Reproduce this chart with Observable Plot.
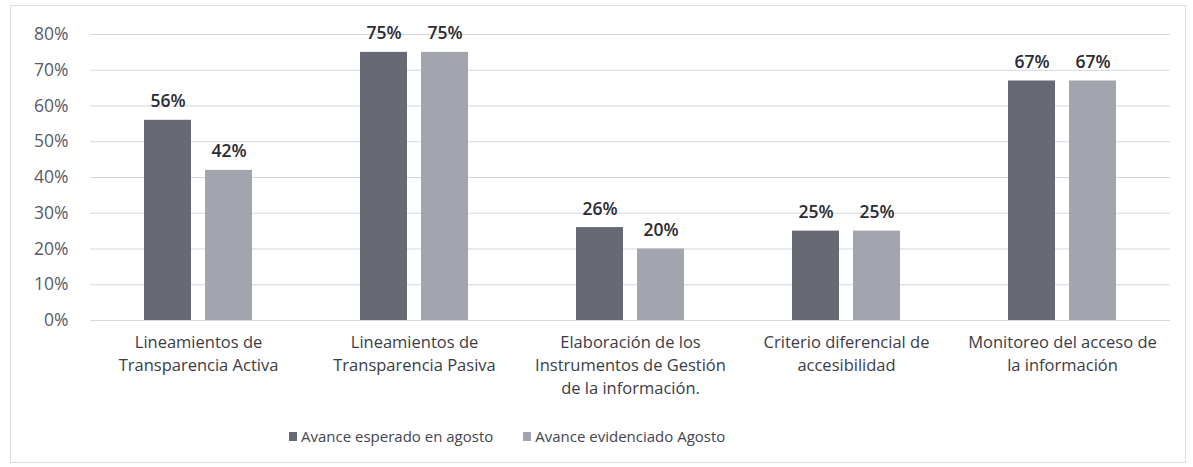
<!DOCTYPE html>
<html>
<head>
<meta charset="utf-8">
<script src="https://cdn.jsdelivr.net/npm/d3@7"></script>
<script src="https://cdn.jsdelivr.net/npm/@observablehq/plot@0.6"></script>
<style>
  html, body { margin: 0; padding: 0; background: #fff; }
  body { width: 1193px; height: 467px; position: relative; overflow: hidden; font-family: "Open Sans", sans-serif; }
  #frame { position: absolute; left: 10px; top: 5px; width: 1176px; height: 458px; border: 1px solid #dcdce2; box-sizing: border-box; pointer-events: none; }
  #chart { position: absolute; left: 0; top: 0; }
  #legend { position: absolute; left: 289px; top: 426px; display: flex; align-items: center; font-size: 15px; color: #45444f; }
  .item { display: flex; align-items: center; margin-right: 30px; }
  .sw { width: 8px; height: 9px; margin-right: 4px; display: inline-block; }
</style>
</head>
<body>
<div id="frame"></div>
<div id="chart"></div>
<div id="legend"></div>
<script>
const categories = [
  "Lineamientos de\nTransparencia Activa",
  "Lineamientos de\nTransparencia Pasiva",
  "Elaboración de los\nInstrumentos de Gestión\nde la información.",
  "Criterio diferencial de\naccesibilidad",
  "Monitoreo del acceso de\nla información"
];
const series = ["Avance esperado en agosto", "Avance evidenciado Agosto"];
const esperado = [56, 75, 26, 25, 67];
const evidenciado = [42, 75, 20, 25, 67];
const yTicks = [0, 10, 20, 30, 40, 50, 60, 70, 80];
const colors = ["#676a75", "#a3a5ae"];

const data = [];
categories.forEach((c, i) => {
  data.push({category: c, serie: series[0], value: esperado[i]});
  data.push({category: c, serie: series[1], value: evidenciado[i]});
});

const chart = Plot.plot({
  width: 1193,
  height: 400,
  marginLeft: 88,
  marginRight: 21,
  marginTop: 34,
  marginBottom: 80,
  style: {fontFamily: "'Open Sans', sans-serif", background: "transparent"},
  fx: {domain: categories, padding: 0, label: null, axis: null},
  x: {domain: series, paddingInner: 0.226, paddingOuter: 0.86, axis: null},
  y: {domain: [0, 80], label: null},
  color: {domain: series, range: colors},
  marks: [
    Plot.gridY(yTicks, {stroke: "#d6d7de", strokeOpacity: 1, strokeWidth: 1}),
    Plot.axisY(yTicks, {tickSize: 0, tickPadding: 22, tickFormat: d => d + "%", fontSize: 17.5, fill: "#5a5a68", label: null}),
    Plot.barY(data, {fx: "category", x: "serie", y: "value", fill: "serie"}),
    Plot.text(data, {fx: "category", x: "serie", y: "value", text: d => d.value + "%", lineAnchor: "bottom", dy: -13, fontSize: 17.5, fontWeight: 600, fill: "#2b2b33"}),
    Plot.axisFx({anchor: "bottom", tickSize: 0, tickPadding: 11, fontSize: 16.5, lineHeight: 1.4, fill: "#3c3c46", label: null, lineAnchor: "top", style: {letterSpacing: "0.4px"}})
  ]
});
document.getElementById("chart").appendChild(chart);

const legend = document.getElementById("legend");
series.forEach((s, i) => {
  const item = document.createElement("div");
  item.className = "item";
  const sw = document.createElement("span");
  sw.className = "sw";
  sw.style.background = colors[i];
  item.appendChild(sw);
  const t = document.createElement("span");
  t.textContent = s;
  item.appendChild(t);
  legend.appendChild(item);
});
</script>
</body>
</html>
